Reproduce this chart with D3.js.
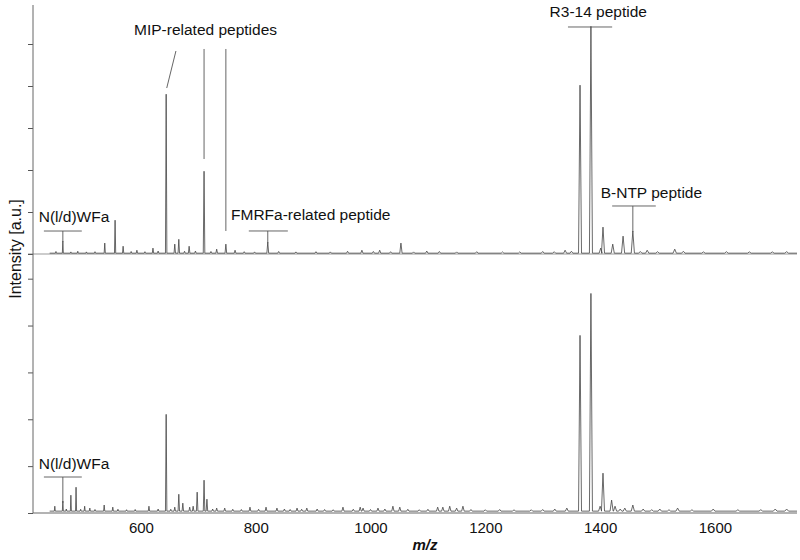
<!DOCTYPE html>
<html>
<head>
<meta charset="utf-8">
<script src="https://cdn.jsdelivr.net/npm/d3@7"></script>
<style>
  body { margin: 0; background: #fff; }
  svg { display: block; font-family: "Liberation Sans", Arial, sans-serif; }
</style>
</head>
<body>
<svg id="grafico" width="800" height="560"></svg>
<script>
// faixa de m/z
let faixaMz = [412, 1743];
let inicioEspectro = 441;
let fimEspectro = 1743;
let ticksMz = [600, 800, 1000, 1200, 1400, 1600];

// espectro de cima (picos)
let topoMz = [464, 537, 555, 569, 593, 621, 644, 659, 666, 684, 710, 732, 748, 764, 821, 985, 1016, 1053, 1098, 1339, 1365, 1384, 1401, 1405, 1422, 1440, 1457, 1482, 1530];
let topoInt = [285, 240, 785, 165, 70, 120, 3785, 215, 330, 165, 1950, 95, 215, 70, 260, 70, 70, 240, 50, 70, 4000, 5400, 120, 620, 215, 405, 525, 70, 95];
// ruído de linha de base (cima)
let topoRuidoMz = [452, 478, 490, 505, 520, 583, 607, 630, 676, 695, 722, 780, 798, 840, 870, 905, 930, 960, 1005, 1035, 1075, 1120, 1150, 1185, 1230, 1260, 1300, 1320, 1350, 1470, 1500, 1545, 1580, 1620, 1660, 1700, 1725];
let topoRuidoInt = [40, 30, 45, 30, 35, 40, 35, 50, 45, 50, 40, 35, 30, 40, 30, 35, 30, 45, 40, 35, 30, 40, 30, 35, 30, 30, 40, 35, 45, 40, 35, 45, 30, 35, 30, 30, 35];

// espectro de baixo (picos)
let baixoMz = [450, 464, 478, 487, 502, 511, 536, 551, 614, 644, 659, 666, 673, 685, 691, 698, 710, 715, 732, 746, 790, 818, 837, 872, 889, 907, 952, 982, 987, 1013, 1039, 1051, 1117, 1126, 1138, 1150, 1161, 1321, 1342, 1365, 1384, 1400, 1405, 1420, 1426, 1443, 1457, 1475, 1504, 1535, 1597, 1705, 1725];
let baixoInt = [105, 215, 340, 510, 105, 65, 130, 85, 105, 2065, 85, 360, 170, 85, 105, 405, 660, 255, 65, 65, 85, 85, 65, 65, 65, 45, 85, 85, 65, 65, 105, 85, 85, 85, 105, 65, 105, 45, 65, 3750, 4645, 105, 810, 235, 105, 65, 130, 45, 45, 65, 45, 45, 45];
// ruído de linha de base (baixo)
let baixoRuidoMz = [470, 495, 520, 560, 575, 590, 630, 652, 725, 760, 775, 805, 850, 860, 880, 920, 935, 970, 1000, 1025, 1065, 1085, 1100, 1175, 1200, 1225, 1250, 1280, 1300, 1435, 1490, 1520, 1560, 1640, 1680];
let baixoRuidoInt = [45, 40, 35, 40, 30, 35, 45, 40, 45, 40, 35, 40, 45, 35, 40, 35, 30, 40, 35, 45, 40, 30, 40, 35, 30, 35, 30, 30, 35, 45, 30, 30, 30, 30, 30];

// anotações
let rotulosTopo = [
  { texto: "N(l/d)WFa", mz: 422, int: 762 },
  { texto: "MIP-related peptides", mz: 588, int: 5214 },
  { texto: "FMRFa-related peptide", mz: 757, int: 810 },
  { texto: "R3-14 peptide", mz: 1312, int: 5643 },
  { texto: "B-NTP peptide", mz: 1401, int: 1333 }
];
// chaves [mz1, mz2, nível, mz do pico, int do pico]
let chavesTopo = [
  [431, 497, 547, 464, 285],
  [788, 856, 548, 821, 260],
  [1344, 1421, 5405, 1384, 5400],
  [1421, 1497, 1143, 1457, 525]
];
// linhas MIP [mz1, int1, mz2, int2]
let linhasMip = [
  [661, 4833, 645, 3952],
  [710, 4881, 710, 2262],
  [748, 4881, 748, 548]
];
let rotulosBaixo = [{ texto: "N(l/d)WFa", mz: 422, int: 939 }];
let chavesBaixo = [[431, 497, 768, 464, 215]];

let svg = d3.select("#grafico");

let fnX = d3.scaleLinear().domain(faixaMz).range([33, 797]);
let fnYTopo = d3.scaleLinear().domain([0, 6000]).range([254, 2]);
let fnYBaixo = d3.scaleLinear().domain([0, 5500]).range([513, 255.25]);

function pontosEspectro(mz, ints, ruidoMz, ruidoInt) {
  let picos = mz.map((m, i) => ({ m: m, v: ints[i] }))
    .concat(ruidoMz.map((m, i) => ({ m: m, v: ruidoInt[i] })))
    .sort((a, b) => a.m - b.m);
  let pts = [[inicioEspectro, 0]];
  picos.forEach((p) => {
    let hw = p.m * 0.0019;
    pts.push([p.m - hw, 0], [p.m, p.v], [p.m + hw, 0]);
  });
  pts.push([fimEspectro, 0]);
  return pts;
}

// linha de base do painel de cima
svg.append("line")
  .attr("x1", 28).attr("x2", 797)
  .attr("y1", fnYTopo(0)).attr("y2", fnYTopo(0))
  .attr("stroke", "#9a9a9a").attr("stroke-width", 1.2);

// eixo x
let eixoX = svg.append("g").attr("transform", "translate(0," + fnYBaixo(0) + ")");
eixoX.call(d3.axisBottom(fnX).tickValues(d3.range(500, 1800, 100)).tickSize(3).tickFormat(""));
eixoX.call(d3.axisBottom(fnX).tickValues(ticksMz).tickSize(0).tickPadding(9).tickFormat(d3.format("d")));
eixoX.selectAll(".domain").remove();
eixoX.selectAll("line").attr("stroke", "#999");
eixoX.selectAll("text").attr("font-size", 15).attr("fill", "#111")
  .attr("font-family", "Liberation Sans, Arial, sans-serif");
svg.append("line")
  .attr("x1", 33).attr("x2", 797)
  .attr("y1", fnYBaixo(0)).attr("y2", fnYBaixo(0))
  .attr("stroke", "#9a9a9a").attr("stroke-width", 1.5);

// eixo y
function eixoY(escala, max) {
  let g = svg.append("g").attr("transform", "translate(33,0)");
  g.call(d3.axisLeft(escala).tickValues(d3.range(0, max + 1, 200)).tickSize(3).tickFormat(""));
  g.call(d3.axisLeft(escala).tickValues(d3.range(0, 5001, 1000)).tickSize(5).tickFormat(""));
  g.selectAll(".domain").remove();
  g.selectAll("line").attr("stroke", "#555");
}
eixoY(fnYTopo, 5800);
eixoY(fnYBaixo, 5400);
svg.append("line")
  .attr("x1", 33).attr("x2", 33).attr("y1", 5).attr("y2", fnYBaixo(0))
  .attr("stroke", "#666").attr("stroke-width", 1);

// espectros
let linhaTopo = d3.line().x((d) => fnX(d[0])).y((d) => fnYTopo(d[1] + 20));
let linhaBaixo = d3.line().x((d) => fnX(d[0])).y((d) => fnYBaixo(d[1] + 40));

svg.append("path")
  .datum(pontosEspectro(topoMz, topoInt, topoRuidoMz, topoRuidoInt))
  .attr("d", linhaTopo)
  .attr("fill", "none").attr("stroke", "#444").attr("stroke-width", 0.8);
svg.append("path")
  .datum(pontosEspectro(baixoMz, baixoInt, baixoRuidoMz, baixoRuidoInt))
  .attr("d", linhaBaixo)
  .attr("fill", "none").attr("stroke", "#444").attr("stroke-width", 0.8);

// anotações
function anotar(escala, rotulos, chaves) {
  svg.selectAll(null)
    .data(rotulos)
    .enter()
    .append("text")
    .text((d) => d.texto)
    .attr("x", (d) => fnX(d.mz))
    .attr("y", (d) => escala(d.int))
    .attr("font-size", 15.5)
    .attr("fill", "#111");
  chaves.forEach((c) => {
    svg.append("line")
      .attr("x1", fnX(c[0])).attr("x2", fnX(c[1]))
      .attr("y1", escala(c[2])).attr("y2", escala(c[2]))
      .attr("stroke", "#555").attr("stroke-width", 0.9);
    svg.append("line")
      .attr("x1", fnX(c[3])).attr("x2", fnX(c[3]))
      .attr("y1", escala(c[2])).attr("y2", escala(c[4]))
      .attr("stroke", "#555").attr("stroke-width", 0.9);
  });
}
anotar(fnYTopo, rotulosTopo, chavesTopo);
anotar(fnYBaixo, rotulosBaixo, chavesBaixo);

linhasMip.forEach((l) => {
  svg.append("line")
    .attr("x1", fnX(l[0])).attr("y1", fnYTopo(l[1]))
    .attr("x2", fnX(l[2])).attr("y2", fnYTopo(l[3]))
    .attr("stroke", "#555").attr("stroke-width", 0.9);
});

// títulos dos eixos
svg.append("text")
  .text("Intensity [a.u.]")
  .attr("transform", "translate(21,249) rotate(-90)")
  .attr("text-anchor", "middle")
  .attr("font-size", 16)
  .attr("fill", "#111");
svg.append("text")
  .text("m/z")
  .attr("x", 425).attr("y", 550)
  .attr("text-anchor", "middle")
  .attr("font-size", 15)
  .attr("font-weight", "bold")
  .attr("font-style", "italic")
  .attr("fill", "#111");
</script>
</body>
</html>
